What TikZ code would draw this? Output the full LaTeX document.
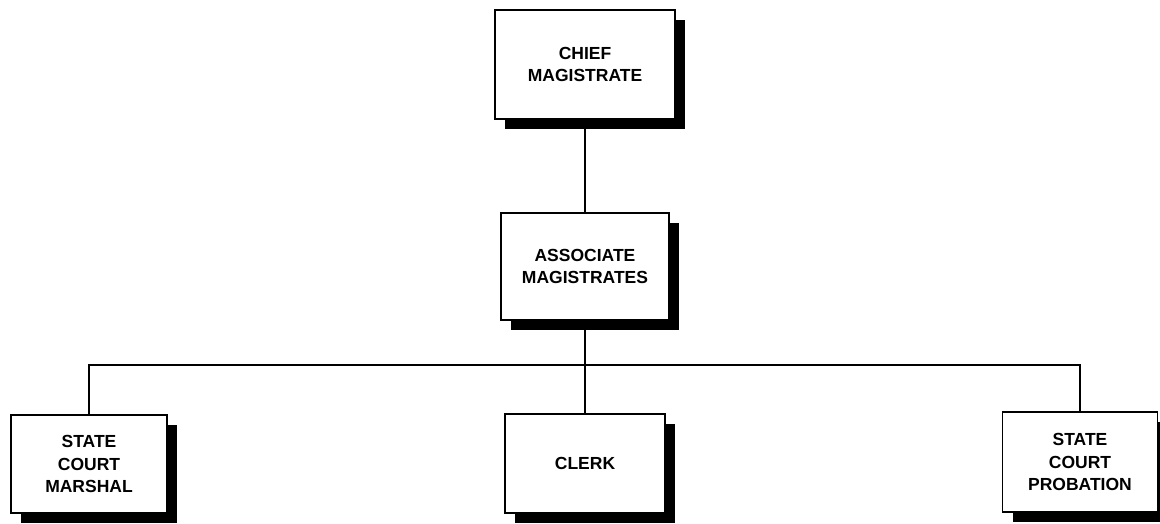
\documentclass[tikz,border=0pt]{standalone}
\usepackage{fontspec}
\setmainfont{Liberation Sans}
\usetikzlibrary{shadows}
\begin{document}
\begin{tikzpicture}[x=1pt,y=-1pt,
  office/.style={draw, line width=1.8pt, fill=white, align=center,
    inner sep=0pt,
    font=\bfseries\fontsize{17.5}{22.5}\selectfont,
    drop shadow={shadow xshift=10pt, shadow yshift=-10pt, fill=black, opacity=1}},
  link/.style={line width=1.8pt}]
\useasboundingbox (0,0) rectangle (1160,524);

% magistrates
\node[office, minimum width=180pt, minimum height=109pt] (chief) at (585,64.5) {CHIEF\\MAGISTRATE};
\node[office, minimum width=168pt, minimum height=107pt] (assoc) at (585,266.5) {ASSOCIATE\\MAGISTRATES};

% staff offices
\node[office, minimum width=156pt, minimum height=98pt] (marshal) at (89,464) {STATE\\COURT\\MARSHAL};
\node[office, minimum width=160pt, minimum height=99pt] (clerk) at (585,463.5) {CLERK};
\node[office, minimum width=155pt, minimum height=100pt] (prob) at (1080,462) {STATE\\COURT\\PROBATION};

% reporting lines
\coordinate (bus) at (585,365);
\draw[link] (chief.south) -- (assoc.north);
\draw[link] (assoc.south) -- (clerk.north);
\draw[link] (marshal.north) |- (bus) -| (prob.north);
\end{tikzpicture}
\end{document}
